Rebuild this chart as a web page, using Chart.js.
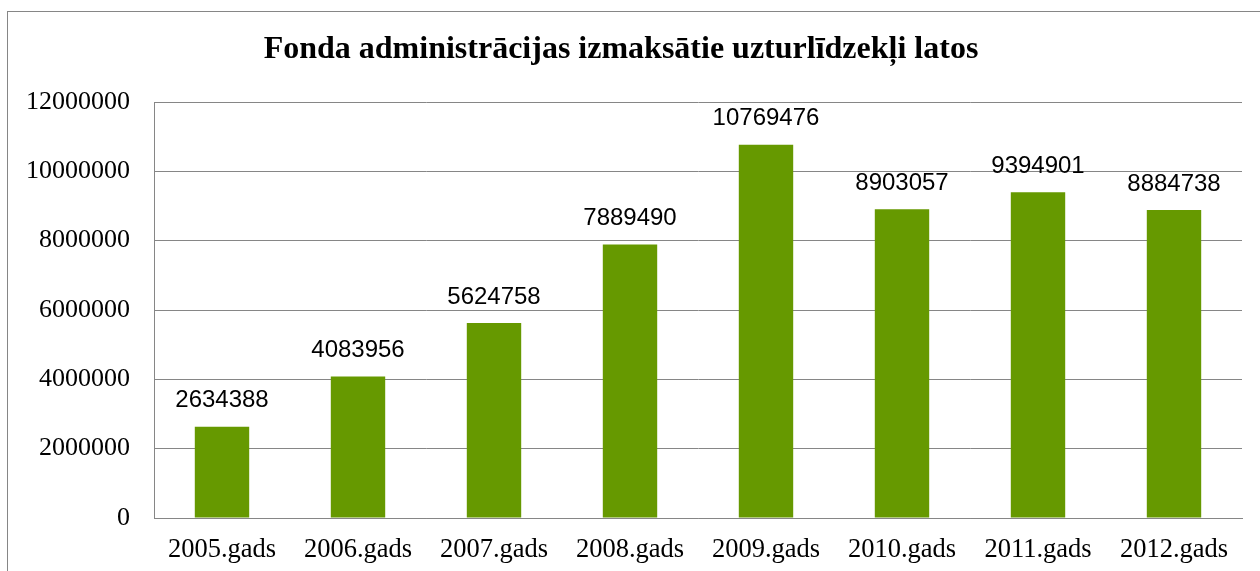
<!DOCTYPE html>
<html>
<head>
<meta charset="utf-8">
<script src="https://cdn.jsdelivr.net/npm/chart.js@4/dist/chart.umd.min.js"></script>
<style>
  html, body { margin: 0; padding: 0; background: #fff; overflow: hidden; }
  #chart { display: block; }
</style>
</head>
<body>
<canvas id="chart" width="1260" height="571"></canvas>
<script>
'use strict';

// chart values
const years = ['2005.gads', '2006.gads', '2007.gads', '2008.gads', '2009.gads', '2010.gads', '2011.gads', '2012.gads'];
const payouts = [2634388, 4083956, 5624758, 7889490, 10769476, 8903057, 9394901, 8884738];
const yTicks = [0, 2000000, 4000000, 6000000, 8000000, 10000000, 12000000];
const chartTitle = 'Fonda administrācijas izmaksātie uzturlīdzekļi latos';

const GRID = '#868686';
const BAR = '#669900';
const SERIF = '"Liberation Serif", "Times New Roman", serif';

// outer frame of the embedded chart object
const framePlugin = {
  id: 'frame',
  beforeDraw(chart) {
    const ctx = chart.ctx;
    ctx.save();
    ctx.strokeStyle = GRID;
    ctx.lineWidth = 1;
    ctx.strokeRect(7.5, 11.5, 1400, 700);
    ctx.restore();
  },
};

// value labels above each bar
const valueLabels = {
  id: 'valueLabels',
  afterDatasetsDraw(chart) {
    const ctx = chart.ctx;
    const meta = chart.getDatasetMeta(0);
    ctx.save();
    ctx.font = '24px "Liberation Sans", Arial, sans-serif';
    ctx.fillStyle = '#000';
    ctx.textAlign = 'center';
    ctx.textBaseline = 'middle';
    meta.data.forEach((bar, i) => {
      ctx.fillText(String(payouts[i]), bar.x, bar.y - 26);
    });
    ctx.restore();
  },
};

new Chart(document.getElementById('chart').getContext('2d'), {
  type: 'bar',
  data: {
    labels: years,
    datasets: [
      {
        data: payouts,
        backgroundColor: BAR,
        borderWidth: 0,
        categoryPercentage: 1,
        barPercentage: 0.4,
      },
    ],
  },
  options: {
    responsive: false,
    animation: false,
    devicePixelRatio: 1,
    layout: { padding: { left: 0, right: 18, top: 0, bottom: 0 } },
    plugins: {
      legend: { display: false },
      tooltip: { enabled: false },
      title: {
        display: true,
        text: chartTitle,
        color: '#000',
        font: { family: SERIF, size: 32, weight: 'bold', lineHeight: 1.2 },
        padding: { top: 31, bottom: 32.6 },
      },
    },
    scales: {
      x: {
        grid: { display: false, drawTicks: false },
        border: { display: true, color: GRID, width: 1 },
        ticks: {
          color: '#000',
          font: { family: SERIF, size: 26.5 },
          padding: 16,
          maxRotation: 0,
        },
        afterFit(scale) { scale.height = 53; },
      },
      y: {
        min: 0,
        max: 12000000,
        afterBuildTicks(scale) { scale.ticks = yTicks.map((v) => ({ value: v })); },
        grid: { color: GRID, lineWidth: 1, drawTicks: false },
        border: { display: true, color: GRID, width: 1 },
        ticks: {
          color: '#000',
          font: { family: SERIF, size: 26 },
          padding: 24,
          callback: (v) => String(v),
        },
        afterFit(scale) { scale.width = 154; },
      },
    },
  },
  plugins: [framePlugin, valueLabels],
});
</script>
</body>
</html>
